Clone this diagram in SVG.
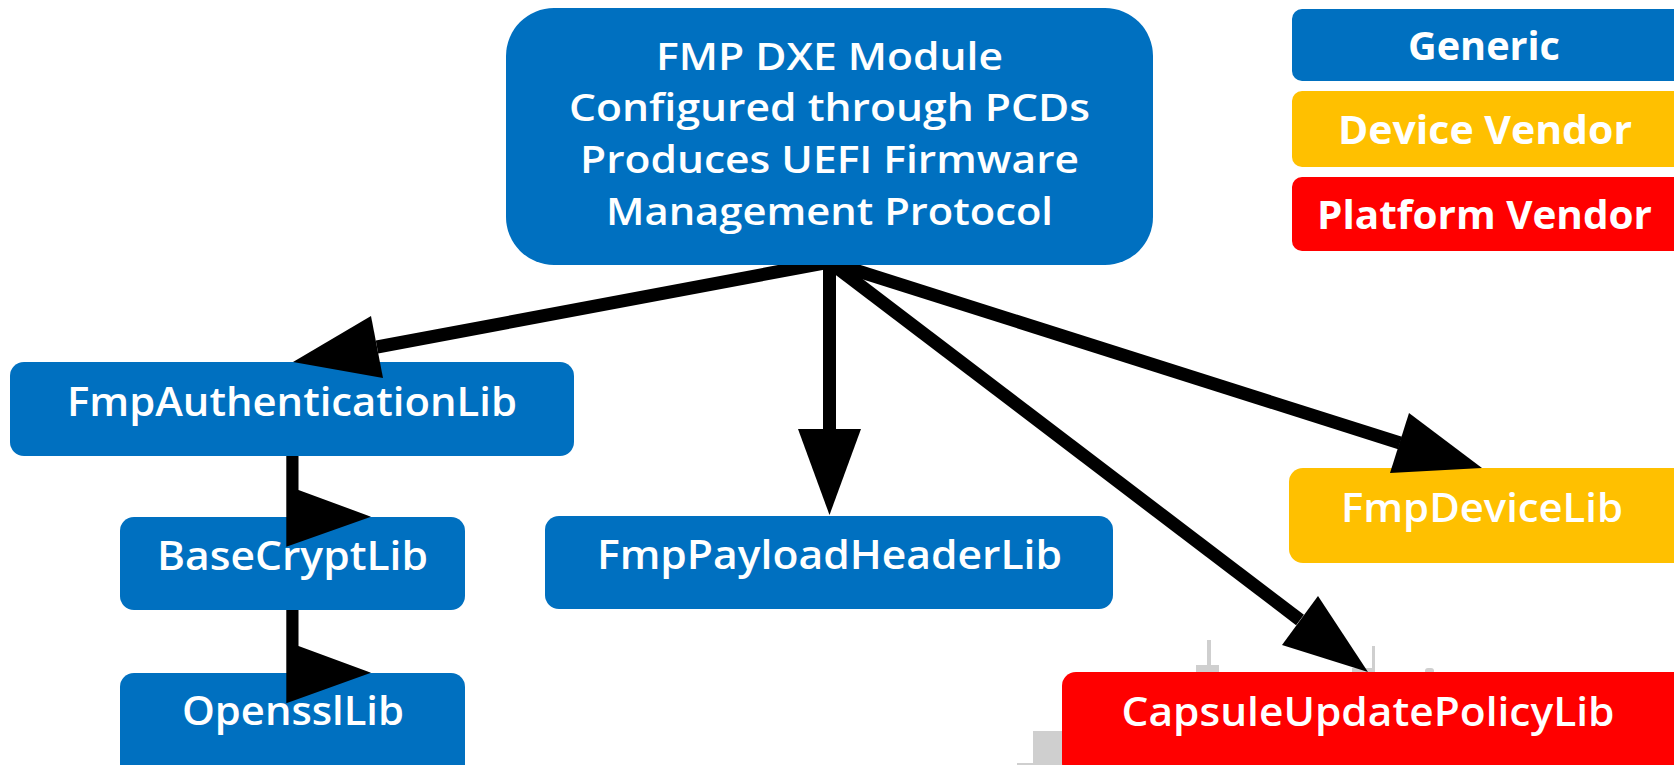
<svg xmlns="http://www.w3.org/2000/svg" width="1674" height="765" viewBox="0 0 1674 765">
<style>
.blue{fill:#0070C0}
.yellow{fill:#FFC000}
.red{fill:#FF0000}
.t{fill:#ffffff;font-family:"Open Sans",Lato,"Liberation Sans",sans-serif;font-weight:600;text-anchor:middle}
.m{font-size:38px}
.n{font-size:40px}
.l{font-size:40px;font-weight:700}
.bg{fill:#cfcfcf}
.ar{fill:#000000}
.ln{stroke:#000000;stroke-width:13;fill:none}
</style>
<rect width="1674" height="765" fill="#ffffff"/>
<g id="background-shapes">
<rect class="bg" x="1207" y="640" width="4" height="26"/>
<rect class="bg" x="1196" y="665" width="23" height="10"/>
<rect class="bg" x="1372" y="646" width="3" height="28"/>
<rect class="bg" x="1352" y="668" width="21" height="6"/>
<rect class="bg" x="1425" y="668" width="9" height="6" rx="3"/>
<rect class="bg" x="1033" y="731" width="32" height="34"/>
<rect class="bg" x="1017" y="763" width="20" height="2"/>
</g>
<g id="node-auth"><rect class="blue" x="10" y="362" width="564" height="94" rx="14"/><text class="t n" x="292" y="416" textLength="450" lengthAdjust="spacingAndGlyphs">FmpAuthenticationLib</text></g>
<g id="node-basecrypt"><rect class="blue" x="120" y="517" width="345" height="93" rx="14"/><text class="t n" x="292.5" y="570" textLength="271" lengthAdjust="spacingAndGlyphs">BaseCryptLib</text></g>
<g id="node-openssl"><rect class="blue" x="120" y="673" width="345" height="105" rx="14"/><text class="t n" x="293" y="725" textLength="222" lengthAdjust="spacingAndGlyphs">OpensslLib</text></g>
<g id="node-payload"><rect class="blue" x="545" y="516" width="568" height="93" rx="14"/><text class="t n" x="829.5" y="569" textLength="465" lengthAdjust="spacingAndGlyphs">FmpPayloadHeaderLib</text></g>
<g id="node-device"><rect class="yellow" x="1289" y="468" width="398" height="95" rx="14"/><text class="t n" x="1482" y="522" textLength="282" lengthAdjust="spacingAndGlyphs">FmpDeviceLib</text></g>
<g id="node-capsule"><rect class="red" x="1062" y="672" width="625" height="105" rx="14"/><text class="t n" x="1368" y="726" textLength="493" lengthAdjust="spacingAndGlyphs">CapsuleUpdatePolicyLib</text></g>
<g id="legend-generic"><rect class="blue" x="1292" y="9" width="395" height="72" rx="10"/><text class="t l" x="1484" y="60" textLength="152" lengthAdjust="spacingAndGlyphs">Generic</text></g>
<g id="legend-device"><rect class="yellow" x="1292" y="91" width="395" height="76" rx="10"/><text class="t l" x="1485" y="144" textLength="294" lengthAdjust="spacingAndGlyphs">Device Vendor</text></g>
<g id="legend-platform"><rect class="red" x="1292" y="177" width="395" height="74" rx="10"/><text class="t l" x="1484.5" y="229" textLength="335" lengthAdjust="spacingAndGlyphs">Platform Vendor</text></g>
<g id="connectors">
<line class="ln" x1="829.5" y1="262" x2="377" y2="347"/>
<polygon class="ar" points="371,316 293,362 383,378"/>
<line class="ln" x1="829.5" y1="262" x2="829.5" y2="430"/>
<polygon class="ar" points="798,429 861,429 829.5,515"/>
<line class="ln" x1="829.5" y1="262" x2="1300" y2="620"/>
<polygon class="ar" points="1318,596 1368,672 1282,645"/>
<line class="ln" x1="829.5" y1="262" x2="1400" y2="443"/>
<polygon class="ar" points="1409,413 1482,468 1390,473"/>
<polygon class="ar" points="286.3,456 298.5,456 298.5,490 371,516.7 286.3,546.7"/>
<polygon class="ar" points="286.3,610 298.5,610 298.5,646 371,672.7 286.3,703.3"/>
</g>
<g id="node-fmp-dxe"><rect class="blue" x="506" y="8" width="647" height="257" rx="48"/>
<text class="t m" x="829.5" y="70" textLength="347" lengthAdjust="spacingAndGlyphs">FMP DXE Module</text>
<text class="t m" x="829.5" y="121" textLength="521" lengthAdjust="spacingAndGlyphs">Configured through PCDs</text>
<text class="t m" x="829.5" y="173" textLength="499" lengthAdjust="spacingAndGlyphs">Produces UEFI Firmware</text>
<text class="t m" x="829.5" y="225" textLength="447" lengthAdjust="spacingAndGlyphs">Management Protocol</text></g>
</svg>
